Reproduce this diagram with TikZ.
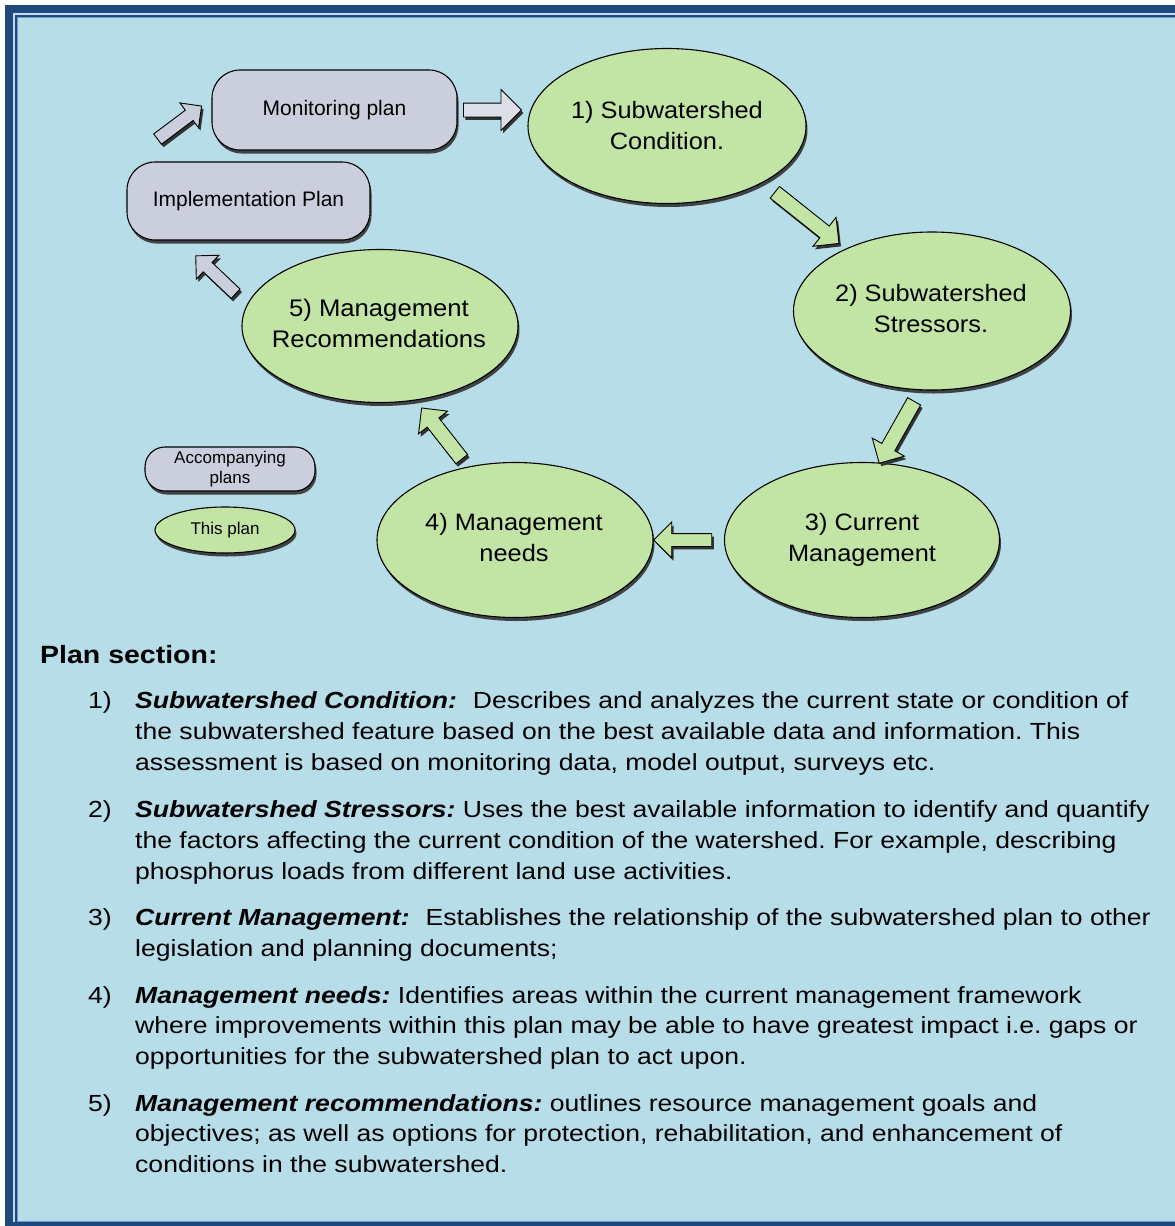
\documentclass[tikz,border=0pt]{standalone}
\usepackage{fontspec}
\setmainfont{Liberation Sans}
\newfontfamily\bodyfont[FakeStretch=1.14]{Liberation Sans}
\newfontfamily\diafont[FakeStretch=1.07]{Liberation Sans}
\usetikzlibrary{shapes.geometric,shapes.arrows,shadows}
\frenchspacing
\definecolor{bgblue}{HTML}{B7DDE8}
\definecolor{dkblue}{HTML}{1F497D}
\definecolor{lineblue}{HTML}{C6D9F1}
\definecolor{midblue}{HTML}{6F96C4}
\definecolor{stagegreen}{HTML}{C2E5A6}
\definecolor{plangrey}{HTML}{CBCFDD}
\definecolor{arrowgrey}{HTML}{DCDFE8}
\newcommand\blockarr[7]{% name, tail, tip, length, half shaft, head extend, fill
  \path ([shift={(2,3)}]#2) -- ([shift={(2,3)}]#3) node[midway, sloped, allow upside down, barrow={#4}{#5}{#6}, fill=black!80, draw=none] (#1s) {};
  \path (#2) -- (#3) node[midway, sloped, allow upside down, barrow={#4}{#5}{#6}, fill=#7] (#1) {};
}
\begin{document}
\begin{tikzpicture}[x=1pt,y=-1pt,
  shad/.style={drop shadow={shadow xshift=1.5pt, shadow yshift=-3.5pt, fill=black!80, opacity=0.9}},
  stage/.style={ellipse, draw=black, line width=1.1pt, fill=stagegreen, shad, inner sep=0pt},
  stagetext/.style={inner sep=0pt, align=center, font=\diafont\fontsize{23.7}{31}\selectfont},
  planbox/.style={rectangle, rounded corners=28pt, draw=black, line width=1.1pt, fill=plangrey, shad, inner sep=0pt, align=center, font=\fontsize{21}{25}\selectfont},
  barrow/.style n args={3}{single arrow, draw=black, line width=0.9pt, minimum height=#1, inner ysep=#2, inner xsep=0pt, single arrow head extend=#3, single arrow head indent=0pt, outer sep=0pt, minimum width=0pt},
  body/.style={inner sep=0pt, anchor=base west, font=\bodyfont\fontsize{23.3}{31}\selectfont\frenchspacing},
]
\useasboundingbox (0,0) rectangle (1175,1226);
\begin{scope}
\clip (0,0) rectangle (1175,1226);
\fill[white] (0,0) rectangle (1175,1226);
\fill[dkblue] (5,5) rectangle (1300,1300);
\fill[lineblue] (13,13) rectangle (1300,1222);
\fill[dkblue] (15,15) rectangle (1300,1222);
\fill[midblue] (17,17) rectangle (1300,1221.5);
\fill[bgblue] (18,18) rectangle (1300,1220.5);
\end{scope}

% plan boxes
\node[planbox, minimum width=245pt, minimum height=80pt] (mon) at (334.5,110) {Monitoring plan};
\node[planbox, minimum width=243pt, minimum height=78pt] (imp) at (248.5,201) {Implementation Plan};

% stages
\node[stage, minimum width=278pt, minimum height=155pt] (s1) at (667,126) {};
\node[stagetext] (s1t) at (s1) {1) Subwatershed\\Condition.};
\node[stage, minimum width=277pt, minimum height=158pt] (s2) at (932,311) {};
\node[stagetext] (s2t) at (931,309) {2) Subwatershed\\Stressors.};
\node[stage, minimum width=275pt, minimum height=155pt] (s3) at (862,540) {};
\node[stagetext] (s3t) at (s3) {3) Current\\Management};
\node[stage, minimum width=276pt, minimum height=155pt] (s4) at (515,540) {};
\node[stagetext] (s4t) at (514,538) {4) Management\\needs};
\node[stage, minimum width=276pt, minimum height=153pt] (s5) at (380,326) {};
\node[stagetext, font=\diafont\fontsize{24}{31}\selectfont] (s5t) at (379,323) {5) Management\\Recommendations};

% legend
\node[planbox, rounded corners=20pt, minimum width=170pt, minimum height=44pt, font=\fontsize{17}{20}\selectfont] (legA) at (230,469) {Accompanying\\plans};
\node[stage, minimum width=140pt, minimum height=46pt] (legT) at (225,530) {};
\node[stagetext, font=\fontsize{17}{20}\selectfont] (legTt) at (legT) {This plan};

% arrows
\coordinate (a1t) at (155,141); \coordinate (a1h) at (199,108);
\coordinate (a2t) at (460,110); \coordinate (a2h) at (518,110);
\coordinate (a3t) at (772,190); \coordinate (a3h) at (836,241);
\coordinate (a4t) at (916,398); \coordinate (a4h) at (881,460);
\coordinate (a5t) at (715,540); \coordinate (a5h) at (657,540);
\coordinate (a6t) at (464,462); \coordinate (a6h) at (424,411);
\coordinate (a7t) at (238,296); \coordinate (a7h) at (198,258);
\blockarr{a1}{a1t}{a1h}{55pt}{6pt}{9pt}{plangrey}
\blockarr{a2}{a2t}{a2h}{58pt}{6.5pt}{13.5pt}{arrowgrey}
\blockarr{a3}{a3t}{a3h}{82pt}{7pt}{11pt}{stagegreen}
\blockarr{a4}{a4t}{a4h}{71pt}{7pt}{11pt}{stagegreen}
\blockarr{a5}{a5t}{a5h}{58pt}{6pt}{11.5pt}{stagegreen}
\blockarr{a6}{a6t}{a6h}{65pt}{7pt}{11pt}{stagegreen}
\blockarr{a7}{a7t}{a7h}{55pt}{6pt}{10pt}{plangrey}

% text
\node[body, font=\bodyfont\bfseries\fontsize{25}{30}\selectfont] (title) at (40,663) {Plan section:};

\node[body] (n1) at (88,708) {1)};
\node[body] (l1a) at (135,708) {\textbf{\textit{Subwatershed Condition:}}\hspace{16pt}Describes and analyzes the current state or condition of};
\node[body] (l1b) at (135,739) {the subwatershed feature based on the best available data and information. This};
\node[body] (l1c) at (135,770) {assessment is based on monitoring data, model output, surveys etc.};

\node[body] (n2) at (88,817) {2)};
\node[body] (l2a) at (135,817) {\textbf{\textit{Subwatershed Stressors:}} Uses the best available information to identify and quantify};
\node[body] (l2b) at (135,848) {the factors affecting the current condition of the watershed. For example, describing};
\node[body] (l2c) at (135,879) {phosphorus loads from different land use activities.};

\node[body] (n3) at (88,925) {3)};
\node[body] (l3a) at (135,925) {\textbf{\textit{Current Management:}}\hspace{16pt}Establishes the relationship of the subwatershed plan to other};
\node[body] (l3b) at (135,956) {legislation and planning documents;};

\node[body] (n4) at (88,1003) {4)};
\node[body] (l4a) at (135,1003) {\textbf{\textit{Management needs:}} Identifies areas within the current management framework};
\node[body] (l4b) at (135,1033) {where improvements within this plan may be able to have greatest impact i.e. gaps or};
\node[body] (l4c) at (135,1064) {opportunities for the subwatershed plan to act upon.};

\node[body] (n5) at (88,1111) {5)};
\node[body] (l5a) at (135,1111) {\textbf{\textit{Management recommendations:}} outlines resource management goals and};
\node[body] (l5b) at (135,1141) {objectives; as well as options for protection, rehabilitation, and enhancement of};
\node[body] (l5c) at (135,1172) {conditions in the subwatershed.};
\end{tikzpicture}
\end{document}
